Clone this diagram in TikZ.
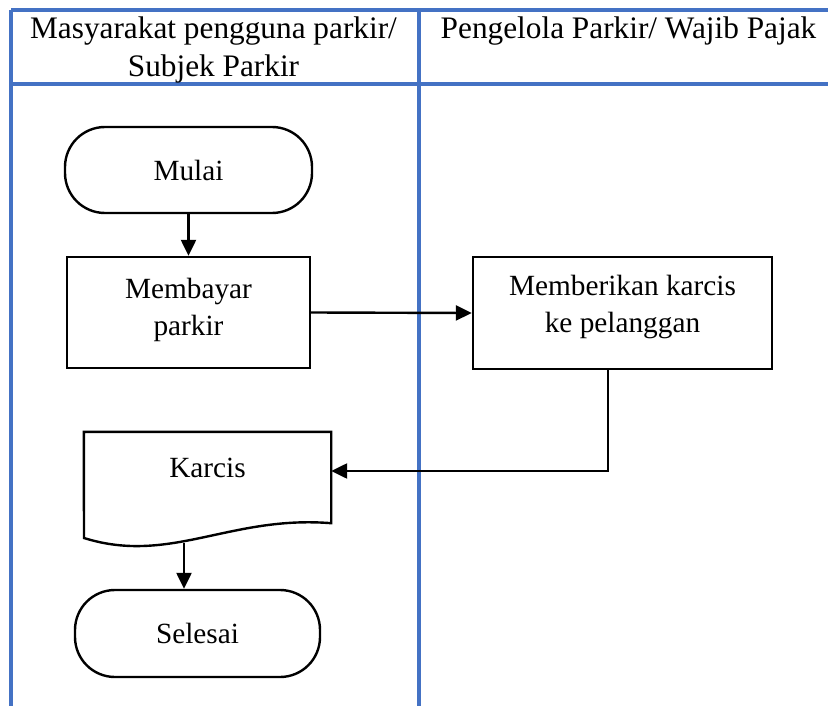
\documentclass[tikz,border=0pt]{standalone}
\usepackage{fontspec}
\setmainfont{Liberation Serif}
\usetikzlibrary{arrows.meta,calc}
\definecolor{laneblue}{HTML}{4472C4}
\begin{document}
\begin{tikzpicture}[x=1pt,y=-1pt,
  lane/.style={draw=laneblue,line width=3.5pt},
  shapeline/.style={draw=black,line width=2.4pt},
  term/.style={shapeline,rectangle,rounded corners=40pt,inner sep=0pt},
  procbox/.style={shapeline,rectangle,inner sep=0pt},
  bodytxt/.style={font=\fontsize{29.3}{37}\selectfont,align=center,inner sep=0pt},
  headtxt/.style={font=\fontsize{31.3}{38}\selectfont,align=center,inner sep=0pt},
  flow/.style={draw=black,line width=2.4pt,-{Triangle[length=16pt,width=15pt]}}]
\useasboundingbox (0,0) rectangle (828,706);
% swimlane grid
\coordinate (tl) at (11,10);
\coordinate (tr) at (828,10);
\coordinate (hl) at (11,84);
\coordinate (hr) at (828,84);
\coordinate (bl) at (11,706);
\coordinate (mt) at (419,10);
\coordinate (mb) at (419,706);
\draw[lane] (tl) -- (tr);
\draw[lane] (hl) -- (hr);
\draw[lane] (tl) -- (bl);
\draw[lane] (mt) -- (mb);
% headers
\node[headtxt,anchor=base] (h1) at (213.5,39) {Masyarakat pengguna parkir/};
\node[headtxt,anchor=base] (h1b) at (213.5,77) {Subjek Parkir};
\node[headtxt,anchor=base] (h2) at (628.5,39) {Pengelola Parkir/ Wajib Pajak};
% nodes
\node[term,minimum width=247pt,minimum height=86pt,bodytxt] (mulai) at (188.5,170) {Mulai};
\node[procbox,minimum width=243pt,minimum height=111pt] (bayar) at (188.5,312.5) {};
\node[bodytxt] (bayart) at (188.5,309.5) {Membayar\\parkir};
\node[procbox,minimum width=299pt,minimum height=112pt] (beri) at (622.5,313) {};
\node[bodytxt] (berit) at (622.5,307) {Memberikan karcis\\ke pelanggan};
\node[rectangle,minimum width=247pt,minimum height=91pt,inner sep=0pt] (karcis) at (207.5,477.5) {};
\node[bodytxt,anchor=base] (karcist) at (207.5,477) {Karcis};
\coordinate (kleft) at (84,538);
\draw[shapeline] (kleft) -- (karcis.north west) -- (karcis.north east) -- (karcis.south east)
  .. controls (230,515) and (170,565) .. (kleft) -- cycle;
\node[term,minimum width=245pt,minimum height=87pt,bodytxt] (selesai) at (197.5,633.5) {Selesai};
% connectors
\coordinate (kbot) at (184,543);
\coordinate (bdown) at ($(beri.south)+(-14.5,0)$);
\coordinate (kin) at ($(karcis.east)+(0,-6.5)$);
\draw[flow] (mulai.south) -- (bayar.north);
\draw[flow] (bayar.east) -- (beri.west);
\draw[flow] (bdown) |- (kin);
\draw[flow] (kbot) -- (kbot |- selesai.north);
\end{tikzpicture}
\end{document}
